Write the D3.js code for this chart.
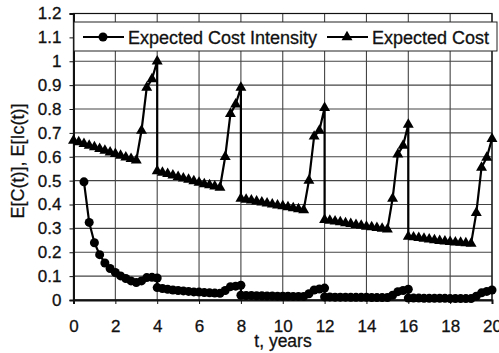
<!DOCTYPE html>
<html>
<head>
<meta charset="utf-8">
<script src="https://cdn.jsdelivr.net/npm/d3@7"></script>
<style>
  body { margin: 0; background: #fff; }
  text { font-family: "Liberation Sans", Arial, sans-serif; fill: #111; stroke: #111; stroke-width: 0.3px; }
</style>
</head>
<body>
<svg id="chart" width="499" height="353"></svg>
<script>
// expected cost, E[C(t)]  (t in years; the repeated t is the drop after renewal)
var costT = [0,0.25,0.5,0.75,1,1.25,1.5,1.75,2,2.25,2.5,2.75,3,3.25,3.5,3.75,4,
             4,4.25,4.5,4.75,5,5.25,5.5,5.75,6,6.25,6.5,6.75,7,7.25,7.5,7.75,8,
             8,8.25,8.5,8.75,9,9.25,9.5,9.75,10,10.25,10.5,10.75,11,11.25,11.5,11.75,12,
             12,12.25,12.5,12.75,13,13.25,13.5,13.75,14,14.25,14.5,14.75,15,15.25,15.5,15.75,16,
             16,16.25,16.5,16.75,17,17.25,17.5,17.75,18,18.25,18.5,18.75,19,19.25,19.5,19.75,20];
var costV = [0.668,0.661,0.654,0.647,0.640,0.633,0.626,0.619,0.612,0.605,0.598,0.591,0.585,0.71,0.89,0.925,1.0,
             0.54,0.534,0.528,0.522,0.516,0.510,0.504,0.498,0.492,0.486,0.481,0.476,0.471,0.60,0.78,0.82,0.89,
             0.425,0.421,0.417,0.413,0.409,0.405,0.401,0.397,0.393,0.389,0.385,0.381,0.377,0.50,0.685,0.71,0.805,
             0.336,0.333,0.329,0.326,0.322,0.319,0.315,0.312,0.308,0.305,0.302,0.299,0.296,0.425,0.61,0.647,0.735,
             0.266,0.263,0.260,0.257,0.254,0.251,0.248,0.246,0.244,0.242,0.240,0.238,0.236,0.365,0.555,0.597,0.675];

// expected cost intensity, E[Ic(t)]
var intT = [0.5,0.75,1,1.25,1.5,1.75,2,2.25,2.5,2.75,3,3.25,3.5,3.75,4,
            4,4.25,4.5,4.75,5,5.25,5.5,5.75,6,6.25,6.5,6.75,7,7.25,7.5,7.75,8,
            8,8.25,8.5,8.75,9,9.25,9.5,9.75,10,10.25,10.5,10.75,11,11.25,11.5,11.75,12,
            12,12.25,12.5,12.75,13,13.25,13.5,13.75,14,14.25,14.5,14.75,15,15.25,15.5,15.75,16,
            16,16.25,16.5,16.75,17,17.25,17.5,17.75,18,18.25,18.5,18.75,19,19.25,19.5,19.75,20];
var intV = [0.495,0.325,0.24,0.19,0.155,0.132,0.115,0.101,0.09,0.08,0.073,0.08,0.094,0.095,0.092,
            0.052,0.048,0.045,0.042,0.040,0.038,0.036,0.034,0.033,0.031,0.030,0.029,0.028,0.040,0.056,0.058,0.062,
            0.020,0.019,0.019,0.018,0.018,0.017,0.017,0.016,0.016,0.016,0.015,0.015,0.015,0.026,0.042,0.046,0.050,
            0.013,0.013,0.012,0.012,0.012,0.011,0.011,0.011,0.011,0.010,0.010,0.010,0.010,0.020,0.035,0.040,0.045,
            0.008,0.008,0.008,0.007,0.007,0.007,0.007,0.007,0.006,0.006,0.006,0.006,0.006,0.016,0.030,0.036,0.042];

var xTicks = [0,2,4,6,8,10,12,14,16,18,20];
var yTicks = [0,0.1,0.2,0.3,0.4,0.5,0.6,0.7,0.8,0.9,1,1.1,1.2];
var seriesNames = ['Expected Cost Intensity', 'Expected Cost'];

var svg = d3.select('#chart');
var x = d3.scaleLinear().domain([0, 20]).range([73.5, 492]);
var y = d3.scaleLinear().domain([0, 1.2]).range([300, 13.5]);

// grid
svg.append('g').selectAll('line').data(yTicks).join('line')
    .attr('x1', x(0)).attr('x2', x(20))
    .attr('y1', d => y(d)).attr('y2', d => y(d))
    .attr('stroke', '#444').attr('stroke-width', 1.1);
svg.append('g').selectAll('line').data(xTicks).join('line')
    .attr('x1', d => x(d)).attr('x2', d => x(d))
    .attr('y1', y(0)).attr('y2', y(1.2))
    .attr('stroke', '#444').attr('stroke-width', 1.1);

// frame
svg.append('rect')
    .attr('x', x(0)).attr('y', y(1.2))
    .attr('width', x(20) - x(0)).attr('height', y(0) - y(1.2))
    .attr('fill', 'none').attr('stroke', '#111').attr('stroke-width', 1.2);

// axes
var yAxis = d3.axisLeft(y).tickValues(yTicks).tickSize(4).tickPadding(8).tickFormat(d3.format('~g'));
var gy = svg.append('g').attr('transform', 'translate(' + x(0) + ',0)').call(yAxis);
var xAxis = d3.axisBottom(x).tickValues(xTicks).tickSize(4).tickPadding(16).tickFormat(d3.format('d'));
var gx = svg.append('g').attr('transform', 'translate(0,' + y(0) + ')').call(xAxis);
[gy, gx].forEach(function(g) {
    g.select('.domain').attr('stroke', '#111').attr('stroke-width', 2);
    g.selectAll('.tick line').attr('stroke', '#111');
    g.selectAll('.tick text').style('font-size', '17px').attr('fill', '#111');
});

// series
var line = d3.line().x(d => x(d[0])).y(d => y(d[1]));
var costData = costT.map((t, i) => [t, costV[i]]);
var intData = intT.map((t, i) => [t, intV[i]]);
var tri = d3.symbol().type(d3.symbolTriangle).size(52);

svg.append('path').datum(costData).attr('d', line)
    .attr('fill', 'none').attr('stroke', '#000').attr('stroke-width', 2.2);
svg.append('g').selectAll('path').data(costData).join('path')
    .attr('d', tri)
    .attr('transform', d => 'translate(' + x(d[0]) + ',' + y(d[1]) + ')')
    .attr('fill', '#000');

svg.append('path').datum(intData).attr('d', line)
    .attr('fill', 'none').attr('stroke', '#000').attr('stroke-width', 2.2);
svg.append('g').selectAll('circle').data(intData).join('circle')
    .attr('cx', d => x(d[0])).attr('cy', d => y(d[1])).attr('r', 4.5)
    .attr('fill', '#000');

// legend
var lg = svg.append('g');
lg.append('rect').attr('x', 74).attr('y', 22).attr('width', 423).attr('height', 29)
    .attr('fill', '#fff').attr('stroke', '#222').attr('stroke-width', 1);
var items = [{ x0: 83, kind: 'circle' }, { x0: 327, kind: 'tri' }];
items.forEach(function(it, i) {
    lg.append('line').attr('x1', it.x0).attr('x2', it.x0 + 41).attr('y1', 37).attr('y2', 37)
        .attr('stroke', '#000').attr('stroke-width', 2);
    if (it.kind == 'circle')
        lg.append('circle').attr('cx', it.x0 + 20).attr('cy', 37).attr('r', 4.5).attr('fill', '#000');
    else
        lg.append('path').attr('d', tri).attr('transform', 'translate(' + (it.x0 + 20) + ',37)').attr('fill', '#000');
    lg.append('text').attr('x', it.x0 + 45).attr('y', 43.5)
        .style('font-size', '18px').text(seriesNames[i]);
});

// axis titles
svg.append('text').attr('x', 283).attr('y', 347).attr('text-anchor', 'middle')
    .style('font-size', '17.5px').text('t, years');
svg.append('text').attr('transform', 'translate(24,161) rotate(-90)').attr('text-anchor', 'middle')
    .style('font-size', '18px').text('E[C(t)], E[Ic(t)]');
</script>
</body>
</html>
